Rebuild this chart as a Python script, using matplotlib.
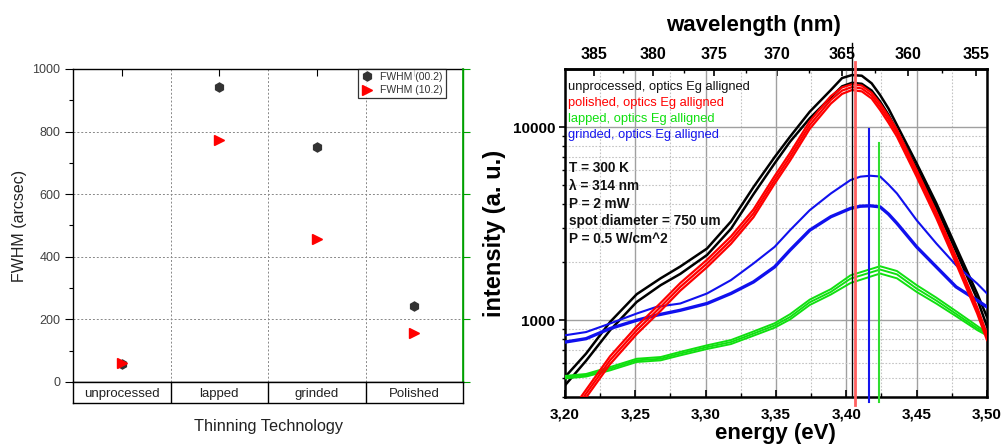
import numpy as np
import matplotlib
matplotlib.use('Agg')
import matplotlib.pyplot as plt
import matplotlib.transforms as mtransforms
from matplotlib.ticker import FixedLocator, MultipleLocator, FuncFormatter, NullFormatter, LogLocator

plt.rcParams['font.family'] = ['Liberation Sans', 'DejaVu Sans']

# ---------------- left chart data ----------------
categories = ['unprocessed', 'lapped', 'grinded', 'Polished']
fwhm_002 = [58, 943, 752, 242]
fwhm_102 = [60, 773, 456, 155]

# ---------------- right chart data ----------------
E_blk = [3.200, 3.215, 3.232, 3.251, 3.268, 3.282, 3.301, 3.318, 3.334, 3.349, 3.360,
         3.374, 3.389, 3.397, 3.404, 3.411, 3.418, 3.424, 3.430, 3.436, 3.450, 3.464,
         3.478, 3.493, 3.500]
blk_upper = [508, 672, 979, 1365, 1650, 1900, 2355, 3250, 4900, 7000, 8940,
             12040, 15600, 18000, 18650, 18500, 16900, 14700, 12500, 10270, 6500, 4040,
             2400, 1377, 1040]
blk_lower = [460, 617, 887, 1245, 1520, 1740, 2180, 2980, 4500, 6500, 8420,
             11130, 14300, 16300, 17000, 16800, 15500, 13600, 11600, 9600, 6150, 3850,
             2280, 1290, 930]

E_red = [3.205, 3.232, 3.251, 3.268, 3.282, 3.301, 3.318, 3.334, 3.349, 3.360, 3.374,
         3.389, 3.397, 3.404, 3.411, 3.418, 3.424, 3.430, 3.436, 3.450, 3.464, 3.478,
         3.493, 3.500]
red_top = [345, 650, 930, 1230, 1560, 2060, 2720, 3750, 5580, 7360, 10750,
           14500, 16100, 16700, 16450, 15100, 13300, 11450, 9700, 6000, 3650, 2130,
           1170, 850]
red_mid = [330, 620, 887, 1173, 1490, 1970, 2600, 3580, 5330, 7030, 10270,
           13870, 15500, 16150, 15900, 14600, 12790, 11000, 9310, 5770, 3510, 2050,
           1127, 818]
red_bot = [315, 592, 848, 1120, 1425, 1885, 2490, 3420, 5100, 6720, 9820,
           13270, 14900, 15600, 15350, 14100, 12300, 10550, 8950, 5550, 3380, 1970,
           1085, 790]

E_blu = [3.200, 3.215, 3.232, 3.251, 3.265, 3.282, 3.301, 3.318, 3.334, 3.349, 3.360,
         3.374, 3.389, 3.403, 3.410, 3.417, 3.424, 3.430, 3.436, 3.450, 3.464, 3.478,
         3.493, 3.500]
blu_upper = [836, 869, 962, 1084, 1173, 1222, 1377, 1615, 1970, 2400, 2930,
             3720, 4540, 5330, 5550, 5610, 5560, 5050, 4540, 3300, 2500, 1930,
             1550, 1377]
blu_lower = [771, 803, 906, 1000, 1062, 1127, 1222, 1377, 1580, 1890, 2310,
             2930, 3440, 3800, 3900, 3920, 3870, 3550, 3180, 2400, 1890, 1490,
             1270, 1173]

E_grn = [3.200, 3.215, 3.232, 3.251, 3.268, 3.282, 3.301, 3.318, 3.334, 3.349, 3.360,
         3.374, 3.389, 3.403, 3.424, 3.436, 3.450, 3.464, 3.478, 3.493, 3.500]
grn_1 = [515, 527, 572, 632, 645, 686, 742, 790, 875, 965, 1075,
         1280, 1450, 1710, 1906, 1800, 1521, 1310, 1115, 935, 860]
grn_2 = [508, 519, 561, 620, 632, 672, 726, 771, 853, 940, 1040,
         1240, 1403, 1644, 1832, 1730, 1460, 1265, 1080, 910, 848]
grn_3 = [500, 511, 550, 608, 620, 658, 710, 753, 832, 915, 1010,
         1200, 1360, 1560, 1747, 1650, 1403, 1220, 1050, 890, 835]

eg_lines = [3.4042, 3.4062, 3.4161, 3.4235]   # black, red, blue, green markers

legend_lines = ['unprocessed, optics Eg alligned', 'polished, optics Eg alligned',
                'lapped, optics Eg alligned', 'grinded, optics Eg alligned']
params_lines = ['T = 300 K', 'λ = 314 nm', 'P = 2 mW', 'spot diameter = 750 um', 'P = 0.5 W/cm^2']

wl_major = [385, 380, 375, 370, 365, 360, 355]
wl_minor = [382.5, 377.5, 372.5, 367.5, 362.5, 357.5]

fig = plt.figure(figsize=(10.06, 4.45), dpi=100)

# ================= LEFT CHART =================
axL = fig.add_axes([0.0726, 0.1416, 0.3877, 0.7034])
xpos = np.arange(len(categories)) + 0.5
axL.plot(xpos, fwhm_002, 'h', color='#333333', ms=6.5, ls='none', label='FWHM (00.2)', zorder=3)
axL.plot(xpos, fwhm_102, '>', color='#ff0000', ms=6.5, ls='none', label='FWHM (10.2)', zorder=4)
axL.set_xlim(0, len(categories))
axL.set_ylim(0, 1000)
axL.set_yticks(np.arange(0, 1001, 200))
axL.yaxis.set_minor_locator(MultipleLocator(100))
axL.set_xticks(np.arange(1, len(categories)))
axL.xaxis.set_minor_locator(FixedLocator(xpos))
axL.tick_params(axis='x', which='major', length=0, labelbottom=False)
axL.tick_params(axis='x', which='minor', direction='in', top=True, bottom=False, length=5, width=0.8)
axL.tick_params(axis='y', which='major', direction='out', length=6, width=0.8,
                labelsize=9, labelcolor='#404040', pad=3)
axL.tick_params(axis='y', which='minor', direction='out', length=3, width=0.8)
axL.grid(True, which='major', color='#888888', ls=(0, (2, 2)), lw=0.7)
axL.set_axisbelow(True)
for s in axL.spines.values():
    s.set_linewidth(1.0)
axL.spines['right'].set_color('#00a000')
axR = axL.twinx()
axR.set_ylim(0, 1000)
axR.set_yticks(np.arange(0, 1001, 200))
axR.tick_params(axis='y', direction='out', length=5, color='#00a000', labelright=False, width=0.8)
for k in ['left', 'top', 'bottom']:
    axR.spines[k].set_visible(False)
axR.spines['right'].set_color('#00a000')
axR.spines['right'].set_linewidth(1.2)
leg = axL.legend(loc='upper right', bbox_to_anchor=(0.956, 1.0), borderaxespad=0,
                 fontsize=7.5, frameon=True, fancybox=False, edgecolor='black',
                 handlelength=1.0, handletextpad=0.8, borderpad=0.3, labelspacing=0.3)
leg.get_frame().set_linewidth(0.9)
for t in leg.get_texts():
    t.set_color('#333333')
axL.set_ylabel('FWHM (arcsec)', fontsize=11.5, color='#222222', labelpad=4)

axC = fig.add_axes([0.0726, 0.0944, 0.3877, 0.0472])
axC.set_xlim(0, len(categories))
axC.set_ylim(0, 1)
axC.set_xticks([]); axC.set_yticks([])
for i, c in enumerate(categories):
    axC.text(i + 0.5, 0.45, c, ha='center', va='center', fontsize=9.5, color='#222222')
for b in range(1, len(categories)):
    axC.axvline(b, color='black', lw=1.0)
for s in axC.spines.values():
    s.set_linewidth(1.0)
fig.text(268 / 1006, (445 - 426.7) / 445, 'Thinning Technology', ha='center', va='center',
         fontsize=11.7, color='#222222')

# ================= RIGHT CHART =================
axE = fig.add_axes([0.5616, 0.1072, 0.4195, 0.7371])
axE.set_yscale('log')
axE.set_xlim(3.2, 3.5)
axE.set_ylim(399, 19980)

for yv in [blk_upper, blk_lower]:
    axE.plot(E_blk, yv, color='black', lw=1.8, zorder=3, solid_joinstyle='round')
for yv in [red_top, red_mid, red_bot]:
    axE.plot(E_red, yv, color='#ff0000', lw=1.6, zorder=4, solid_joinstyle='round')
axE.plot(E_blu, blu_upper, color='#1010ee', lw=1.5, zorder=3, solid_joinstyle='round')
axE.plot(E_blu, blu_lower, color='#1010ee', lw=2.4, zorder=3, solid_joinstyle='round')
for yv in [grn_1, grn_2, grn_3]:
    axE.plot(E_grn, yv, color='#10e010', lw=1.4, zorder=3, solid_joinstyle='round')

trans = mtransforms.blended_transform_factory(axE.transData, axE.transAxes)
vl_cols = ['black', '#ff6060', '#1515ee', '#30dd30']
vl_top = [1.08, 1.023, 0.817, 0.774]
vl_bot = [0.0, -0.0235, -0.0134, -0.0134]
vl_w = [1.0, 2.0, 1.5, 1.5]
for e, c, t, b, w in zip(eg_lines, vl_cols, vl_top, vl_bot, vl_w):
    axE.plot([e, e], [b, t], transform=trans, color=c, lw=w, clip_on=False, zorder=5)

axE.xaxis.set_major_locator(MultipleLocator(0.05))
axE.xaxis.set_minor_locator(MultipleLocator(0.025))
axE.xaxis.set_major_formatter(FuncFormatter(lambda v, p: f'{v:.2f}'.replace('.', ',')))
axE.yaxis.set_major_locator(FixedLocator([1000, 10000]))
axE.yaxis.set_major_formatter(FuncFormatter(lambda v, p: f'{int(round(v))}'))
axE.yaxis.set_minor_locator(LogLocator(base=10, subs=np.arange(2, 10)))
axE.yaxis.set_minor_formatter(NullFormatter())
axE.tick_params(axis='x', which='major', direction='in', length=5, width=1.2, top=False,
                labelsize=11, pad=7)
axE.tick_params(axis='x', which='minor', direction='in', length=3, width=1.0, top=False)
axE.tick_params(axis='y', which='major', direction='out', length=4, width=1.2, labelsize=11, pad=3)
axE.tick_params(axis='y', which='minor', direction='out', length=2.5, width=1.0)
for lab in axE.get_xticklabels() + axE.get_yticklabels():
    lab.set_fontweight('bold')
axE.grid(True, which='major', color='#a0a0a0', lw=1.0, ls='-')
axE.grid(True, which='minor', color='#c4c4c4', lw=0.8, ls=(0, (1.5, 1.5)))
axE.set_axisbelow(True)
for s in axE.spines.values():
    s.set_linewidth(1.8)


def e2l(E):
    E = np.asarray(E, dtype=float)
    with np.errstate(divide='ignore', invalid='ignore'):
        return 1239.84 / E


sec = axE.secondary_xaxis('top', functions=(e2l, e2l))
sec.xaxis.set_major_locator(FixedLocator(wl_major))
sec.xaxis.set_minor_locator(FixedLocator(wl_minor))
sec.xaxis.set_major_formatter(FuncFormatter(lambda v, p: f'{int(round(v))}'))
sec.tick_params(axis='x', which='major', direction='in', length=5, width=1.2, labelsize=11.5, pad=5)
sec.tick_params(axis='x', which='minor', direction='in', length=3, width=1.0)
for lab in sec.get_xticklabels():
    lab.set_fontweight('bold')
sec.spines['top'].set_linewidth(1.8)

leg_cols = ['#111111', '#ff0000', '#10e010', '#1515ee']
for i, (txt, c) in enumerate(zip(legend_lines, leg_cols)):
    axE.text(0.008, 0.947 - i * 0.0488, txt, transform=axE.transAxes, ha='left', va='center',
             fontsize=9.3, color=c, zorder=6)
for i, txt in enumerate(params_lines):
    axE.text(0.010, 0.698 - i * 0.054, txt, transform=axE.transAxes, ha='left', va='center',
             fontsize=9.8, fontweight='bold', color='#111111', zorder=6)

fig.text(753 / 1006, (445 - 25) / 445, 'wavelength (nm)', ha='center', va='center',
         fontsize=16, fontweight='bold')
fig.text(775 / 1006, (445 - 433) / 445, 'energy (eV)', ha='center', va='center',
         fontsize=16, fontweight='bold')
fig.text(495 / 1006, (445 - 233) / 445, 'intensity (a. u.)', ha='center', va='center',
         rotation=90, fontsize=17, fontweight='bold')

fig.savefig('out.png', dpi=100)
